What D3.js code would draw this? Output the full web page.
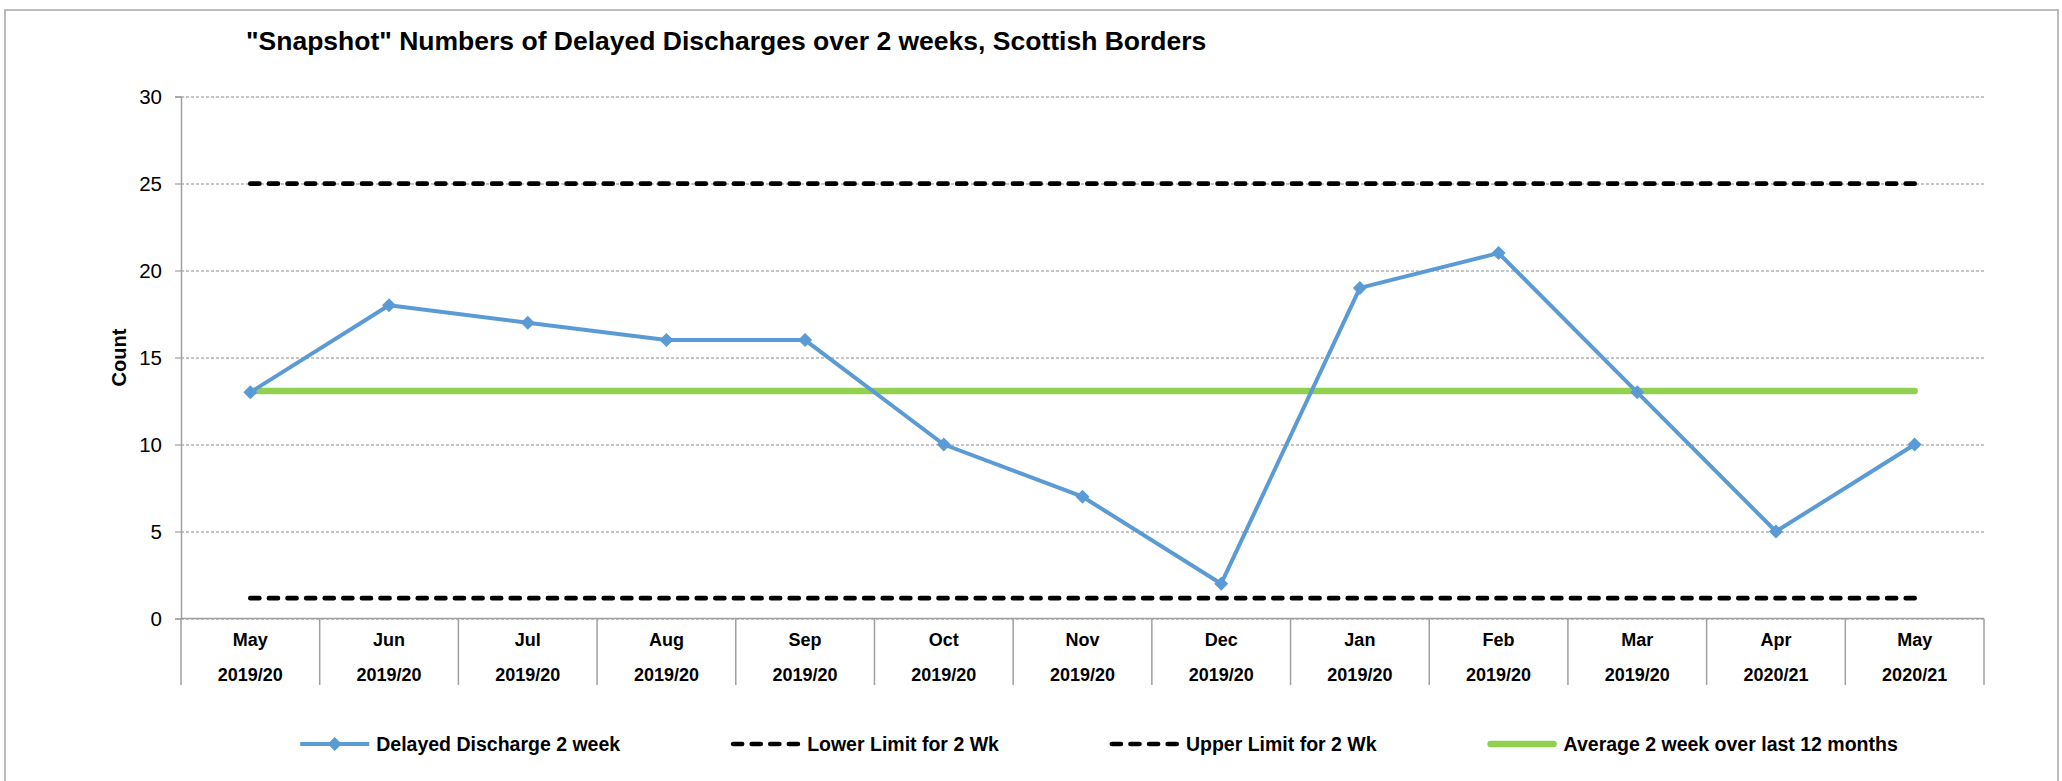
<!DOCTYPE html>
<html>
<head>
<meta charset="utf-8">
<script src="https://cdn.jsdelivr.net/npm/d3@7"></script>
<style>
  body { margin: 0; background: #fff; }
  svg { display: block; }
  text { font-family: "Liberation Sans", Arial, sans-serif; }
</style>
</head>
<body>
<svg id="chart" width="2062" height="781"></svg>
<script>
// ---------------- DATA ----------------
const months = ["May","Jun","Jul","Aug","Sep","Oct","Nov","Dec","Jan","Feb","Mar","Apr","May"];
const years = ["2019/20","2019/20","2019/20","2019/20","2019/20","2019/20","2019/20","2019/20","2019/20","2019/20","2019/20","2020/21","2020/21"];
const delayedDischarge = [13, 18, 17, 16, 16, 10, 7, 2, 19, 21, 13, 5, 10];
const lowerLimit = [1.17, 1.17, 1.17, 1.17, 1.17, 1.17, 1.17, 1.17, 1.17, 1.17, 1.17, 1.17, 1.17];
const upperLimit = [24.99, 24.99, 24.99, 24.99, 24.99, 24.99, 24.99, 24.99, 24.99, 24.99, 24.99, 24.99, 24.99];
const average12 = [13.08, 13.08, 13.08, 13.08, 13.08, 13.08, 13.08, 13.08, 13.08, 13.08, 13.08, 13.08, 13.08];
const yTicks = [0, 5, 10, 15, 20, 25, 30];
const seriesNames = ["Delayed Discharge 2 week", "Lower Limit for 2 Wk", "Upper Limit for 2 Wk", "Average 2 week over last 12 months"];
const titleText = "\"Snapshot\" Numbers of Delayed Discharges over 2 weeks, Scottish Borders";
const yTitle = "Count";

// ---------------- LAYOUT ----------------
const svg = d3.select("#chart");
const plot = { left: 181, right: 1984, top: 96.5, bottom: 618.5 };
const blue = "#5b9bd5", green = "#92d050", gridCol = "#8c8c8c", axisCol = "#a0a0a0";

// chart border
svg.append("rect")
  .attr("x", 5).attr("y", 10).attr("width", 2053).attr("height", 820)
  .attr("fill", "#fff").attr("stroke", "#a6a6a6").attr("stroke-width", 1.5);

const x = d3.scaleBand().domain(d3.range(months.length)).range([plot.left, plot.right]).padding(0);
const cx = i => x(i) + x.bandwidth() / 2;
const y = d3.scaleLinear().domain([0, 30]).range([plot.bottom, plot.top]);

// title
svg.append("text")
  .attr("x", 246).attr("y", 50)
  .attr("font-size", 26.5).attr("font-weight", "bold").attr("fill", "#000")
  .text(titleText);

// gridlines
const grid = svg.append("g").attr("transform", `translate(${plot.left},0)`)
  .call(d3.axisLeft(y).tickValues(yTicks).tickSize(-(plot.right - plot.left)).tickFormat(""));
grid.select(".domain").remove();
grid.selectAll(".tick line").attr("stroke", gridCol).attr("stroke-width", 1).attr("stroke-dasharray", "3,2");

// y axis with labels
const yAxis = svg.append("g").attr("transform", `translate(${plot.left},0)`)
  .call(d3.axisLeft(y).tickValues(yTicks).tickSize(6).tickPadding(13));
yAxis.select(".domain").attr("stroke", axisCol).attr("stroke-width", 1.5);
yAxis.selectAll(".tick line").attr("stroke", axisCol).attr("stroke-width", 1.2);
yAxis.selectAll(".tick text").attr("font-size", 20.5).attr("fill", "#000")
  .style("font-family", "\"Liberation Sans\", Arial, sans-serif");

// y title
svg.append("text")
  .attr("transform", `translate(126,${(plot.top + plot.bottom) / 2}) rotate(-90)`)
  .attr("text-anchor", "middle")
  .attr("font-size", 20).attr("font-weight", "bold").attr("fill", "#000")
  .text(yTitle);

// x axis line + category separators
svg.append("line")
  .attr("x1", plot.left).attr("x2", plot.right)
  .attr("y1", y(0)).attr("y2", y(0))
  .attr("stroke", axisCol).attr("stroke-width", 1.5);
const bounds = d3.range(months.length).map(i => x(i)).concat([plot.right]);
svg.append("g").selectAll("line").data(bounds).join("line")
  .attr("x1", d => d).attr("x2", d => d)
  .attr("y1", y(0)).attr("y2", 685)
  .attr("stroke", axisCol).attr("stroke-width", 1.5);

const xl = svg.append("g").attr("font-size", 18).attr("font-weight", "bold").attr("fill", "#000").attr("text-anchor", "middle");
xl.selectAll("text.m").data(months).join("text").attr("class", "m")
  .attr("x", (d, i) => cx(i)).attr("y", 640).attr("dy", "0.35em").text(d => d);
xl.selectAll("text.yr").data(years).join("text").attr("class", "yr")
  .attr("x", (d, i) => cx(i)).attr("y", 675).attr("dy", "0.35em").text(d => d);

// series
const line = d3.line().x((d, i) => cx(i)).y(d => y(d));

svg.append("path").datum(lowerLimit).attr("d", line)
  .attr("fill", "none").attr("stroke", "#000").attr("stroke-width", 4.7)
  .attr("stroke-dasharray", "9 9.6").attr("stroke-linecap", "round");
svg.append("path").datum(upperLimit).attr("d", line)
  .attr("fill", "none").attr("stroke", "#000").attr("stroke-width", 4.7)
  .attr("stroke-dasharray", "9 9.6").attr("stroke-linecap", "round");
svg.append("path").datum(average12).attr("d", line)
  .attr("fill", "none").attr("stroke", green).attr("stroke-width", 6.5)
  .attr("stroke-linecap", "round");
svg.append("path").datum(delayedDischarge).attr("d", line)
  .attr("fill", "none").attr("stroke", blue).attr("stroke-width", 4)
  .attr("stroke-linejoin", "round");
const diamond = d3.symbol(d3.symbolDiamond2, 125);
svg.append("g").selectAll("path").data(delayedDischarge).join("path")
  .attr("d", diamond)
  .attr("transform", (d, i) => `translate(${cx(i)},${y(d)})`)
  .attr("fill", blue);

// legend
const legendY = 744, symW = 69, textGap = 7, itemGap = 111, legendCenter = 1099;
const leg = svg.append("g");
const items = seriesNames.map((name, k) => {
  const g = leg.append("g");
  const t = g.append("text").attr("x", symW + textGap).attr("y", 0).attr("dy", "0.35em")
    .attr("font-size", 19.5).attr("font-weight", "bold").attr("fill", "#000").text(name);
  return { g, w: symW + textGap + t.node().getComputedTextLength(), k };
});
const total = d3.sum(items, d => d.w) + itemGap * (items.length - 1);
let xpos = legendCenter - total / 2;
items.forEach(it => {
  it.g.attr("transform", `translate(${xpos},${legendY})`);
  const k = it.k;
  if (k === 0) {
    it.g.append("line").attr("x1", 0).attr("x2", symW).attr("y1", 0).attr("y2", 0)
      .attr("stroke", blue).attr("stroke-width", 4);
    it.g.append("path").attr("d", diamond).attr("transform", `translate(${symW / 2},0)`).attr("fill", blue);
  } else if (k === 1 || k === 2) {
    it.g.append("line").attr("x1", 2).attr("x2", symW - 2).attr("y1", 0).attr("y2", 0)
      .attr("stroke", "#000").attr("stroke-width", 4.7)
      .attr("stroke-dasharray", "9 9.6").attr("stroke-linecap", "round");
  } else {
    it.g.append("line").attr("x1", 3).attr("x2", symW - 3).attr("y1", 0).attr("y2", 0)
      .attr("stroke", green).attr("stroke-width", 6.5).attr("stroke-linecap", "round");
  }
  xpos += it.w + itemGap;
});
</script>
</body>
</html>
